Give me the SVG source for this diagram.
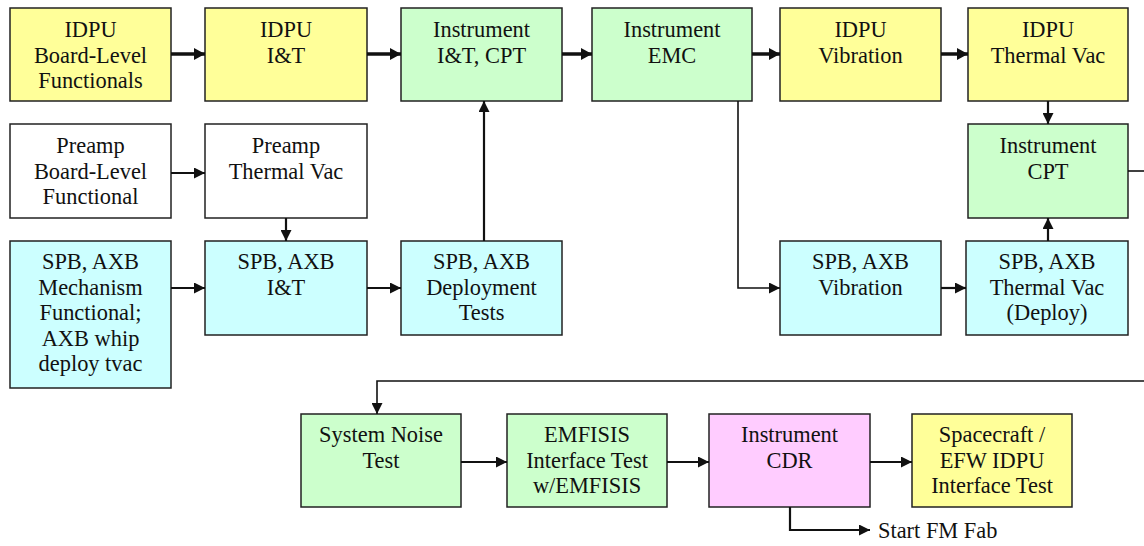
<svg xmlns="http://www.w3.org/2000/svg" width="1144" height="546" viewBox="0 0 1144 546" font-family="Liberation Serif, Times New Roman, DejaVu Serif, serif">
<style>
.b{stroke:#222;stroke-width:1.5}
.y{fill:#FFFF99}.g{fill:#CCFFCC}.c{fill:#CCFFFF}.p{fill:#FFCCFF}.w{fill:#FFFFFF}
text{font-family:'Liberation Serif','Times New Roman','DejaVu Serif',serif;font-size:22.4px;fill:#111;text-anchor:middle}
.k{fill:none;stroke:#111}
.t3{stroke-width:3.5}.t2{stroke-width:2.2}.t1{stroke-width:1.6}
</style>
<defs>
<marker id="ah" markerUnits="userSpaceOnUse" markerWidth="12" markerHeight="12" refX="11" refY="6" orient="auto"><path d="M0,0 L11,6 L0,12 z" fill="#111"/></marker>
<marker id="as" markerUnits="userSpaceOnUse" markerWidth="12" markerHeight="11" refX="11" refY="5.5" orient="auto"><path d="M0,0 L11,5.5 L0,11 z" fill="#111"/></marker>
</defs>
<rect width="1144" height="546" fill="#fff"/>
<g id="n1"><rect class="b y" x="10" y="8" width="161" height="93"/><text x="90.5" y="37">IDPU</text><text x="90.5" y="62.5">Board-Level</text><text x="90.5" y="88">Functionals</text></g>
<g id="n2"><rect class="b y" x="205" y="8" width="162" height="93"/><text x="286" y="37">IDPU</text><text x="286" y="62.5">I&amp;T</text></g>
<g id="n3"><rect class="b g" x="401" y="8" width="161" height="93"/><text x="481.5" y="37">Instrument</text><text x="481.5" y="62.5">I&amp;T, CPT</text></g>
<g id="n4"><rect class="b g" x="592" y="8" width="160" height="93"/><text x="672" y="37">Instrument</text><text x="672" y="62.5">EMC</text></g>
<g id="n5"><rect class="b y" x="780" y="8" width="161" height="93"/><text x="860.5" y="37">IDPU</text><text x="860.5" y="62.5">Vibration</text></g>
<g id="n6"><rect class="b y" x="968" y="8" width="160" height="93"/><text x="1048" y="37">IDPU</text><text x="1048" y="62.5">Thermal Vac</text></g>
<g id="n7"><rect class="b w" x="10" y="124" width="161" height="94"/><text x="90.5" y="153">Preamp</text><text x="90.5" y="178.5">Board-Level</text><text x="90.5" y="204">Functional</text></g>
<g id="n8"><rect class="b w" x="205" y="124" width="162" height="94"/><text x="286" y="153">Preamp</text><text x="286" y="178.5">Thermal Vac</text></g>
<g id="n9"><rect class="b g" x="968" y="124" width="160" height="94"/><text x="1048" y="153">Instrument</text><text x="1048" y="178.5">CPT</text></g>
<g id="n10"><rect class="b c" x="10" y="241" width="161" height="147"/><text x="90.5" y="269">SPB, AXB</text><text x="90.5" y="294.5">Mechanism</text><text x="90.5" y="320">Functional;</text><text x="90.5" y="345.5">AXB whip</text><text x="90.5" y="371">deploy tvac</text></g>
<g id="n11"><rect class="b c" x="205" y="241" width="162" height="94"/><text x="286" y="269">SPB, AXB</text><text x="286" y="294.5">I&amp;T</text></g>
<g id="n12"><rect class="b c" x="401" y="241" width="161" height="94"/><text x="481.5" y="269">SPB, AXB</text><text x="481.5" y="294.5">Deployment</text><text x="481.5" y="320">Tests</text></g>
<g id="n13"><rect class="b c" x="780" y="241" width="161" height="94"/><text x="860.5" y="269">SPB, AXB</text><text x="860.5" y="294.5">Vibration</text></g>
<g id="n14"><rect class="b c" x="966" y="241" width="162" height="94"/><text x="1047" y="269">SPB, AXB</text><text x="1047" y="294.5">Thermal Vac</text><text x="1047" y="320">(Deploy)</text></g>
<g id="n15"><rect class="b g" x="301" y="414" width="160" height="93"/><text x="381" y="442">System Noise</text><text x="381" y="467.5">Test</text></g>
<g id="n16"><rect class="b g" x="507" y="414" width="160" height="93"/><text x="587" y="442">EMFISIS</text><text x="587" y="467.5">Interface Test</text><text x="587" y="493">w/EMFISIS</text></g>
<g id="n17"><rect class="b p" x="709" y="414" width="161" height="93"/><text x="789.5" y="442">Instrument</text><text x="789.5" y="467.5">CDR</text></g>
<g id="n18"><rect class="b y" x="912" y="414" width="160" height="93"/><text x="992" y="442">Spacecraft /</text><text x="992" y="467.5">EFW IDPU</text><text x="992" y="493">Interface Test</text></g>
<g id="n19"><text x="878" y="538" style="text-anchor:start">Start FM Fab</text></g>
<g id="connectors">
<path class="k t3" d="M171,54 H205" marker-end="url(#ah)"/>
<path class="k t3" d="M367,54 H401" marker-end="url(#ah)"/>
<path class="k t3" d="M562,54 H592" marker-end="url(#ah)"/>
<path class="k t3" d="M752,54 H780" marker-end="url(#ah)"/>
<path class="k t3" d="M941,54 H968" marker-end="url(#ah)"/>
<path class="k t2" d="M1048,101 V124" marker-end="url(#as)"/>
<path class="k t2" d="M171,173 H205" marker-end="url(#as)"/>
<path class="k t2" d="M286,218 V241" marker-end="url(#as)"/>
<path class="k t2" d="M171,288 H205" marker-end="url(#as)"/>
<path class="k t2" d="M367,288 H401" marker-end="url(#as)"/>
<path class="k t2" d="M484,241 V101" marker-end="url(#as)"/>
<path class="k t1" d="M738,101 V288 H780" marker-end="url(#as)"/>
<path class="k t2" d="M941,288 H966" marker-end="url(#as)"/>
<path class="k t2" d="M1048,241 V218" marker-end="url(#as)"/>
<path class="k t1" d="M1128,171 H1144"/>
<path class="k t1" d="M1144,381 H377 V414" marker-end="url(#as)"/>
<path class="k t2" d="M461,462 H507" marker-end="url(#as)"/>
<path class="k t2" d="M667,462 H709" marker-end="url(#as)"/>
<path class="k t2" d="M870,462 H912" marker-end="url(#as)"/>
<path class="k t2" d="M790,507 V530 H870" marker-end="url(#as)"/>
</g>
</svg>
